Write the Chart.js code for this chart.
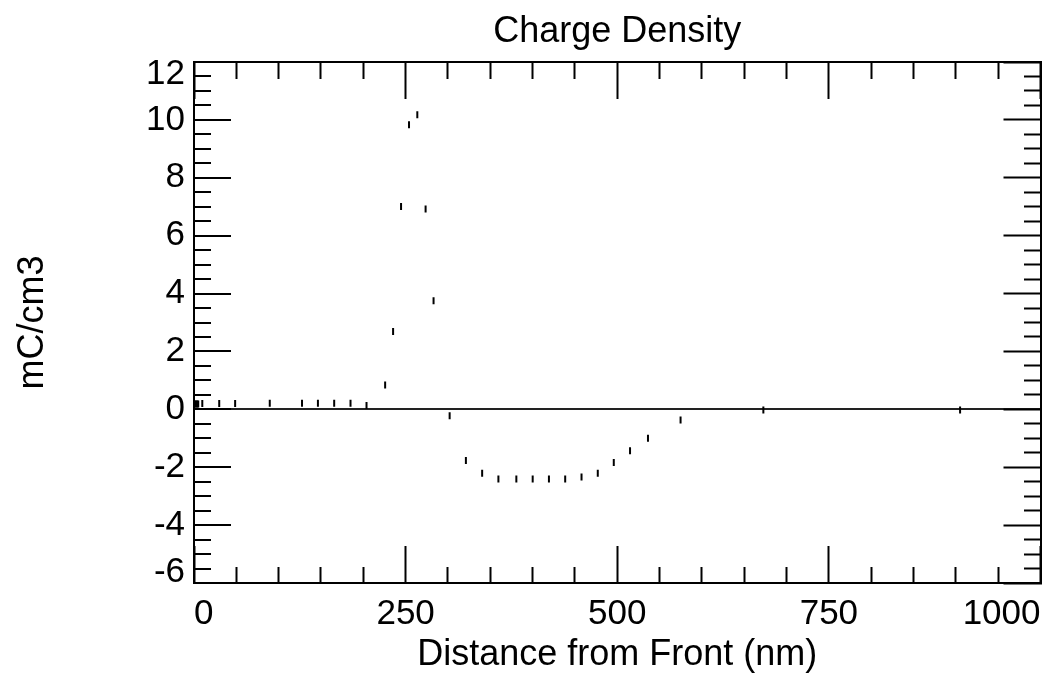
<!DOCTYPE html>
<html>
<head>
<meta charset="utf-8">
<script src="https://cdn.jsdelivr.net/npm/chart.js@4.4.1/dist/chart.umd.min.js"></script>
<style>
html,body{margin:0;padding:0;background:#fff;}
#wrap{width:1046px;height:677px;}
</style>
</head>
<body>
<div id="wrap"><canvas id="c" width="1046" height="677"></canvas></div>
<script>
// ---- data ----
const depthNm = [0, 1, 2, 3, 4, 5, 9.8, 29.8, 48.6, 89.5, 127.6, 146.4, 165.6, 184.9, 203.8,
  225.8, 235.2, 244.6, 254, 263.8, 273.6, 283, 302, 321.2, 340.4, 359.6, 380.8, 400.1,
  419.3, 438.5, 457.8, 477, 495.9, 515.1, 536.3, 574.8, 672.6, 905];
const chargeDensity = [0.18, 0.18, 0.18, 0.18, 0.18, 0.18, 0.2, 0.2, 0.2, 0.21, 0.21, 0.21, 0.21, 0.21, 0.13,
  0.84, 2.69, 7.01, 9.83, 10.18, 6.92, 3.75, -0.22, -1.77, -2.21, -2.41, -2.41, -2.41,
  -2.41, -2.41, -2.34, -2.21, -1.84, -1.43, -1.0, -0.37, -0.02, -0.02];

const xMajorTicks = [0, 250, 500, 750, 1000];
const yMajorTicks = [-6, -4, -2, 0, 2, 4, 6, 8, 10, 12];
const xMinorStep = 50;
const yMinorStep = 0.5;

const titleText = 'Charge Density';
const xTitle = 'Distance from Front (nm)';
const yTitle = 'mC/cm3';

// ---- helpers ----
function stepTicks(min, max, step) {
  const out = [];
  const n = Math.round((max - min) / step);
  for (let i = 0; i <= n; i++) out.push({value: +(min + i * step).toFixed(6)});
  return out;
}
const xMin = xMajorTicks[0], xMax = xMajorTicks[xMajorTicks.length - 1];
const yMin = yMajorTicks[0], yMax = yMajorTicks[yMajorTicks.length - 1];
const near = (a, b) => Math.abs(a - b) < 1e-6;
const isXMajor = v => xMajorTicks.some(t => near(t, v));
const isYMajor = v => yMajorTicks.some(t => near(t, v));

const FONT = 'Liberation Sans, Arial, Helvetica, sans-serif';
Chart.defaults.font.family = FONT;
Chart.defaults.color = '#000';

const TICK_SIZE = 35;
const tickFont = {family: FONT, size: TICK_SIZE, weight: 'normal', lineHeight: 1.2};
const titleFont = {family: FONT, size: 36, weight: 'normal', lineHeight: 1.2};

const majorLen = 37;

function xTicksBuild(scale) { scale.ticks = stepTicks(xMin, xMax, xMinorStep); }
function yTicksBuild(scale) { scale.ticks = stepTicks(yMin, yMax, yMinorStep); }

// y labels at the ends are nudged inside the frame (as in the original plot)
function yTickFont(ctx) {
  const v = ctx.tick ? ctx.tick.value : null;
  if (v !== null && near(v, yMax)) return {family: FONT, size: TICK_SIZE, lineHeight: 25.4 / TICK_SIZE};
  if (v !== null && near(v, yMin)) return {family: FONT, size: TICK_SIZE, lineHeight: 22 / TICK_SIZE};
  return tickFont;
}
function yTickLabel(v) {
  if (!isYMajor(v)) return '';
  if (near(v, yMax)) return ['', String(v)];
  if (near(v, yMin)) return [String(v), ''];
  return String(v);
}

const points = depthNm.map((x, i) => ({x: x, y: chargeDensity[i]}));

new Chart(document.getElementById('c'), {
  type: 'scatter',
  data: {
    datasets: [{
      data: points,
      showLine: false,
      pointStyle: 'line',
      pointRotation: 90,
      rotation: 90,
      pointRadius: 3.5,
      pointHoverRadius: 3.5,
      pointBorderWidth: 2,
      pointBorderColor: '#000',
      pointBackgroundColor: '#000',
      borderColor: '#000',
      backgroundColor: '#000'
    }]
  },
  options: {
    responsive: false,
    devicePixelRatio: 1,
    animation: false,
    events: [],
    layout: {padding: {top: 0, right: 3, bottom: 0, left: 0}},
    plugins: {
      legend: {display: false},
      tooltip: {enabled: false},
      title: {
        display: true,
        text: titleText,
        fullSize: false,
        color: '#000',
        font: titleFont,
        padding: {top: 10.4, bottom: 8.4}
      }
    },
    scales: {
      x: {
        type: 'linear', position: 'bottom', min: xMin, max: xMax,
        afterBuildTicks: xTicksBuild,
        afterFit: s => { s.height = 94; s.paddingLeft = 0; s.paddingRight = 0; s.paddingTop = 0; s.paddingBottom = 0; },
        ticks: {
          autoSkip: false, maxRotation: 0, minRotation: 0, align: 'inner',
          padding: 47.3, font: tickFont, color: '#000',
          callback: v => isXMajor(v) ? String(v) : ''
        },
        grid: {
          drawOnChartArea: false, drawTicks: true, tickLength: -majorLen,
          tickWidth: 2, tickColor: '#000',
          tickBorderDash: ctx => (ctx.tick && isXMajor(ctx.tick.value)) ? [] : [17, 40]
        },
        border: {display: true, color: '#000', width: 2},
        title: {display: true, text: xTitle, color: '#000', font: titleFont, padding: {top: 0, bottom: 0.4}}
      },
      x2: {
        type: 'linear', position: 'top', min: xMin, max: xMax,
        afterBuildTicks: xTicksBuild,
        afterFit: s => { s.height = 0; s.paddingLeft = 0; s.paddingRight = 0; s.paddingTop = 0; s.paddingBottom = 0; },
        ticks: {display: false, autoSkip: false},
        grid: {
          drawOnChartArea: false, drawTicks: true, tickLength: -majorLen,
          tickWidth: 2, tickColor: '#000',
          tickBorderDash: ctx => (ctx.tick && isXMajor(ctx.tick.value)) ? [] : [0, 20, 20, 0]
        },
        border: {display: true, color: '#000', width: 2}
      },
      y: {
        type: 'linear', position: 'left', min: yMin, max: yMax,
        afterBuildTicks: yTicksBuild,
        afterFit: s => { s.width = 194; s.paddingTop = 0; s.paddingBottom = 0; s.paddingLeft = 0; s.paddingRight = 0; },
        ticks: {
          autoSkip: false, padding: 46, font: yTickFont, color: '#000',
          callback: v => yTickLabel(v)
        },
        grid: {
          drawOnChartArea: true, drawTicks: true, tickLength: -majorLen,
          color: ctx => (ctx.tick && Math.abs(ctx.tick.value) < 1e-9) ? '#222' : 'rgba(0,0,0,0)',
          lineWidth: ctx => (ctx.tick && Math.abs(ctx.tick.value) < 1e-9) ? 2 : 0,
          tickWidth: 2, tickColor: '#000',
          tickBorderDash: ctx => (ctx.tick && isYMajor(ctx.tick.value)) ? [] : [0, 20, 20, 0]
        },
        border: {display: true, color: '#000', width: 2},
        title: {display: true, text: yTitle, color: '#000', font: titleFont, padding: {top: 11.4, bottom: 0}}
      },
      y2: {
        type: 'linear', position: 'right', min: yMin, max: yMax,
        afterBuildTicks: yTicksBuild,
        afterFit: s => { s.width = 0; s.paddingTop = 0; s.paddingBottom = 0; s.paddingLeft = 0; s.paddingRight = 0; },
        ticks: {display: false, autoSkip: false},
        grid: {
          drawOnChartArea: false, drawTicks: true, tickLength: -majorLen,
          tickWidth: 2, tickColor: '#000',
          tickBorderDash: ctx => (ctx.tick && isYMajor(ctx.tick.value)) ? [] : [18, 40]
        },
        border: {display: true, color: '#000', width: 2}
      }
    }
  }
});
</script>
</body>
</html>
